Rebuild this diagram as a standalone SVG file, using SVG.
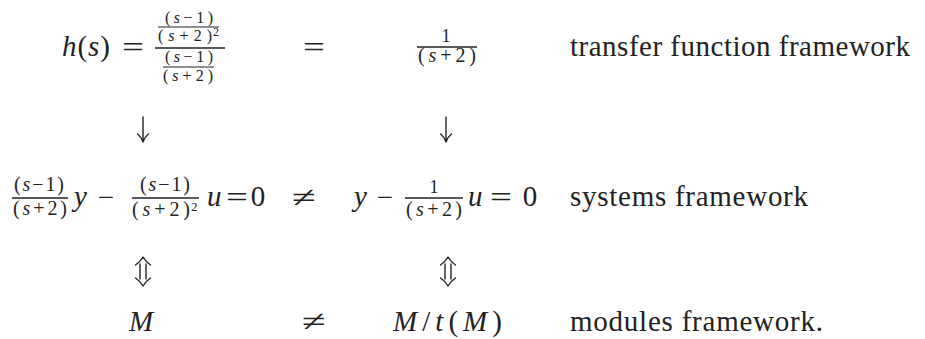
<svg xmlns="http://www.w3.org/2000/svg" width="925" height="339" viewBox="0 0 925 339">
<rect width="925" height="339" fill="#ffffff"/>

<g id="tf-left" fill="#222">
  <text font-family="Liberation Serif" font-size="29" x="62" y="56" textLength="48"><tspan font-style="italic">h</tspan>(<tspan font-style="italic">s</tspan>)</text>
  <text font-family="Liberation Serif" font-size="29" x="133" y="57" text-anchor="middle" textLength="22" lengthAdjust="spacingAndGlyphs">=</text>
  <line x1="155" y1="48" x2="225" y2="48" stroke="#222" stroke-width="1.3"/>
  <text font-family="Liberation Serif" font-size="16" x="189" y="23" text-anchor="middle" textLength="48">(<tspan font-style="italic">s</tspan>−1)</text>
  <line x1="158" y1="27" x2="219" y2="27" stroke="#222" stroke-width="1"/>
  <text font-family="Liberation Serif" font-size="16" x="158" y="41" textLength="54">(<tspan font-style="italic">s</tspan>+2)</text>
  <text font-family="Liberation Serif" font-size="12" x="213" y="36">2</text>
  <text font-family="Liberation Serif" font-size="16" x="189" y="62" text-anchor="middle" textLength="48">(<tspan font-style="italic">s</tspan>−1)</text>
  <line x1="163" y1="67" x2="214" y2="67" stroke="#222" stroke-width="1"/>
  <text font-family="Liberation Serif" font-size="16" x="188" y="81" text-anchor="middle" textLength="50">(<tspan font-style="italic">s</tspan>+2)</text>
</g>

<g id="tf-eq" fill="#222">
  <text font-family="Liberation Serif" font-size="29" x="314" y="57" text-anchor="middle" textLength="22" lengthAdjust="spacingAndGlyphs">=</text>
</g>

<g id="tf-right" fill="#222">
  <text font-family="Liberation Serif" font-size="18" x="446" y="42" text-anchor="middle">1</text>
  <line x1="417" y1="47" x2="477" y2="47" stroke="#222" stroke-width="1.3"/>
  <text font-family="Liberation Serif" font-size="20" x="447" y="62" text-anchor="middle" textLength="58">(<tspan font-style="italic">s</tspan>+2)</text>
</g>

<g id="tf-label" fill="#222">
  <text font-family="Liberation Serif" font-size="29" x="570" y="56" textLength="340">transfer function framework</text>
</g>

<g id="sys-left" fill="#222">
  <text font-family="Liberation Serif" font-size="20" x="39" y="191" text-anchor="middle" textLength="50">(<tspan font-style="italic">s</tspan>−1)</text>
  <line x1="12" y1="198" x2="68" y2="198" stroke="#222" stroke-width="1.3"/>
  <text font-family="Liberation Serif" font-size="20" x="40" y="215" text-anchor="middle" textLength="54">(<tspan font-style="italic">s</tspan>+2)</text>
  <text font-family="Liberation Serif" font-size="29" font-style="italic" x="74" y="206">y</text>
  <text font-family="Liberation Serif" font-size="29" x="106" y="207" text-anchor="middle">−</text>
  <text font-family="Liberation Serif" font-size="20" x="165" y="191" text-anchor="middle" textLength="50">(<tspan font-style="italic">s</tspan>−1)</text>
  <line x1="132" y1="198" x2="199" y2="198" stroke="#222" stroke-width="1.3"/>
  <text font-family="Liberation Serif" font-size="20" x="132" y="216" textLength="58">(<tspan font-style="italic">s</tspan>+2)</text>
  <text font-family="Liberation Serif" font-size="13" x="191" y="211">2</text>
  <text font-family="Liberation Serif" font-size="29" font-style="italic" x="207" y="206">u</text>
  <text font-family="Liberation Serif" font-size="29" x="237" y="207" text-anchor="middle" textLength="22" lengthAdjust="spacingAndGlyphs">=</text>
  <text font-family="Liberation Serif" font-size="29" x="258" y="206" text-anchor="middle">0</text>
</g>

<g id="sys-neq" fill="#222">
  <text font-family="Liberation Serif" font-size="29" x="304" y="207" text-anchor="middle" textLength="24" lengthAdjust="spacingAndGlyphs">≠</text>
</g>

<g id="sys-right" fill="#222">
  <text font-family="Liberation Serif" font-size="29" font-style="italic" x="354" y="206">y</text>
  <text font-family="Liberation Serif" font-size="29" x="385" y="207" text-anchor="middle">−</text>
  <text font-family="Liberation Serif" font-size="18" x="434" y="193" text-anchor="middle">1</text>
  <line x1="405" y1="198" x2="463" y2="198" stroke="#222" stroke-width="1.3"/>
  <text font-family="Liberation Serif" font-size="20" x="434" y="216" text-anchor="middle" textLength="56">(<tspan font-style="italic">s</tspan>+2)</text>
  <text font-family="Liberation Serif" font-size="29" font-style="italic" x="468" y="206">u</text>
  <text font-family="Liberation Serif" font-size="29" x="501" y="207" text-anchor="middle" textLength="22" lengthAdjust="spacingAndGlyphs">=</text>
  <text font-family="Liberation Serif" font-size="29" x="530" y="206" text-anchor="middle">0</text>
</g>

<g id="sys-label" fill="#222">
  <text font-family="Liberation Serif" font-size="29" x="570" y="206" textLength="238">systems framework</text>
</g>

<g id="mod-left" fill="#222">
  <text font-family="Liberation Serif" font-size="29" font-style="italic" x="129" y="331">M</text>
</g>

<g id="mod-neq" fill="#222">
  <text font-family="Liberation Serif" font-size="29" x="314" y="331" text-anchor="middle" textLength="24" lengthAdjust="spacingAndGlyphs">≠</text>
</g>

<g id="mod-right" fill="#222">
  <text font-family="Liberation Serif" font-size="29" x="393" y="331" textLength="109"><tspan font-style="italic">M</tspan>/<tspan font-style="italic">t</tspan>(<tspan font-style="italic">M</tspan>)</text>
</g>

<g id="mod-label" fill="#222">
  <text font-family="Liberation Serif" font-size="29" x="570" y="331" textLength="253">modules framework.</text>
</g>

<g id="connectors" stroke="#222" stroke-width="1.4" fill="none" stroke-linecap="round" stroke-linejoin="round">
  <path d="M143,117 V141 M137.5,134 Q141.5,137 143,142 Q144.5,137 148.5,134"/>
  <path d="M446,117 V141 M440.5,134 Q444.5,137 446,142 Q447.5,137 451.5,134"/>
  <path d="M140,264 V279 M146,264 V279 M135.5,265 Q140,262 143,257 Q146,262 150.5,265 M135.5,278 Q140,281 143,286 Q146,281 150.5,278"/>
  <path d="M445,264 V279 M451,264 V279 M440.5,265 Q445,262 448,257 Q451,262 455.5,265 M440.5,278 Q445,281 448,286 Q451,281 455.5,278"/>
</g>
</svg>
